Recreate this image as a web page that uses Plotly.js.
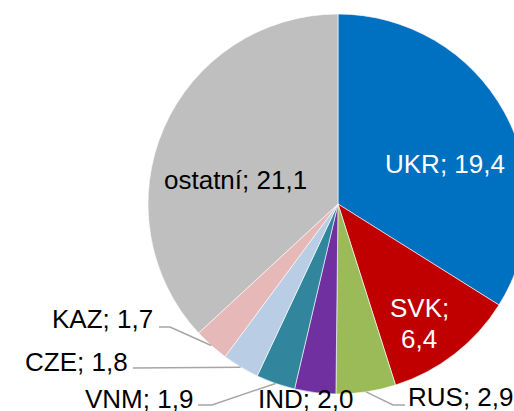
<!DOCTYPE html>
<html>
<head>
<meta charset="utf-8">
<script src="https://cdn.plot.ly/plotly-3.0.1.min.js"></script>
<style>
html,body{margin:0;padding:0;overflow:hidden;background:#fff;width:514px;height:411px;}
#chart{width:560px;height:420px;}
</style>
</head>
<body>
<div id="chart"></div>
<script>
const labels = ['UKR','SVK','RUS','IND','VNM','CZE','KAZ','ostatní'];
const values = [19.4, 6.4, 2.9, 2.0, 1.9, 1.8, 1.7, 21.1];
const colors = ['#0070C0','#C00000','#9BBB59','#7030A0','#31859C','#B9CDE5','#E6B9B8','#BFBFBF'];

const W = 560, H = 420;
const cx = 338, cy = 204, R = 190;
const px = x => x / W;
const py = y => 1 - y / H;

const fmt = v => v.toFixed(1).replace('.', ',');
const total = values.reduce((a, b) => a + b, 0);
const mids = [];
let acc = 0;
values.forEach(v => { mids.push((acc + v / 2) / total * 2 * Math.PI); acc += v; });
const edge = (i, f) => [cx + R * f * Math.sin(mids[i]), cy - R * f * Math.cos(mids[i])];

const FONT = 'Liberation Sans, Arial, sans-serif';
const FS = 26;

// label placement: [index, x, y, xanchor, color]
const place = [
  [0, 445, 164, 'center', '#ffffff'],
  [7, 235, 180, 'center', '#000000'],
  [2, 406, 397, 'left', '#000000'],
  [3, 306, 399, 'center', '#000000'],
  [4, 195, 399, 'right', '#000000'],
  [5, 130, 362, 'right', '#000000'],
  [6, 155, 319, 'right', '#000000']
];
const annotations = place.map(p => ({
  xref: 'paper', yref: 'paper', x: px(p[1]), y: py(p[2]),
  xanchor: p[3], yanchor: 'middle', showarrow: false,
  text: labels[p[0]] + '; ' + fmt(values[p[0]]),
  font: {family: FONT, size: FS, color: p[4]}
}));
annotations.push({xref:'paper',yref:'paper',x:px(419),y:py(308),xanchor:'center',yanchor:'middle',showarrow:false,
  text: labels[1] + ';', font:{family:FONT,size:FS,color:'#ffffff'}});
annotations.push({xref:'paper',yref:'paper',x:px(419),y:py(339),xanchor:'center',yanchor:'middle',showarrow:false,
  text: fmt(values[1]), font:{family:FONT,size:FS,color:'#ffffff'}});

// leader lines: [index, start points...]
const leaders = [
  [6, [[159, 327], [170, 327]]],
  [5, [[133, 368]]],
  [4, [[198, 405], [212, 405]]],
  [2, [[405, 405], [393, 405]]]
];
const shapes = leaders.map(l => {
  const pts = l[1].concat([edge(l[0], 1.0)]);
  const d = pts.map((p, k) => (k ? 'L' : 'M') + px(p[0]).toFixed(5) + ',' + py(p[1]).toFixed(5)).join(' ');
  return {type: 'path', xref: 'paper', yref: 'paper', path: d, line: {color: '#A6A6A6', width: 1.5}};
});

const data = [{
  type: 'pie', labels: labels, values: values, sort: false, direction: 'clockwise', rotation: 0,
  marker: {colors: colors, line: {color: '#ffffff', width: 0.6}},
  textinfo: 'none', hoverinfo: 'none', showlegend: false,
  domain: {x: [(cx - R) / W, (cx + R) / W], y: [1 - (cy + R) / H, 1 - (cy - R) / H]}
}];
const layout = {
  width: W, height: H, margin: {l: 0, r: 0, t: 0, b: 0},
  paper_bgcolor: '#ffffff', showlegend: false,
  annotations: annotations, shapes: shapes
};
Plotly.newPlot('chart', data, layout, {displayModeBar: false, staticPlot: true});
</script>
</body>
</html>
